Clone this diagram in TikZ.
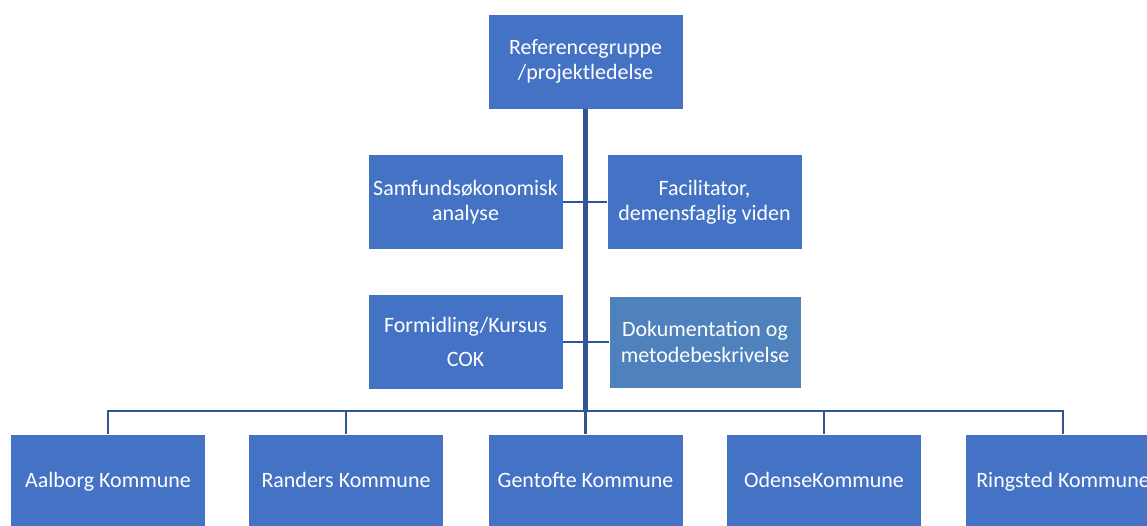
\documentclass[tikz,border=0pt]{standalone}
\usepackage{fontspec}
\setmainfont{Carlito}
\usetikzlibrary{positioning,calc}
\definecolor{boxblue}{HTML}{4472C4}
\definecolor{dokblue}{HTML}{4F81BD}
\definecolor{linkblue}{HTML}{2F5597}
\begin{document}
\begin{tikzpicture}[x=0.02cm,y=-0.02cm,
	box/.style={fill=boxblue,draw=white,line width=0.4pt,text=white,align=center,
		minimum width=3.9cm,minimum height=1.9cm,inner sep=2pt,
		font=\fontsize{12.5}{14.5}\selectfont},
	kommune/.style={box,text height=2ex,text depth=0.5ex},
	link/.style={draw=linkblue,line width=1.6pt}]
	\useasboundingbox (0,0) rectangle (1147,525);
	\node at (585.5,61.5)[box] (ref) {Referencegruppe\\/projektledelse};
	\node at (465.5,202)[box] (samf) {Samfunds\o konomisk\\analyse};
	\node at (704.5,202)[box] (fac) {Facilitator,\\demensfaglig viden};
	\node at (465.5,342)[box] (form) {Formidling/Kursus\\[5pt]COK};
	\node at (705,342)[box,fill=dokblue,minimum width=3.84cm,minimum height=1.84cm] (dok) {Dokumentation og\\metodebeskrivelse};
	\node at (108,481.5)[kommune] (aal) {Aalborg Kommune};
	\node at (346,481.5)[kommune] (ran) {Randers Kommune};
	\node at (585.5,481.5)[kommune] (gen) {Gentofte Kommune};
	\node at (824,481.5)[kommune] (ode) {OdenseKommune};
	\node at (1063,481.5)[kommune] (rin) {Ringsted Kommune};
	\coordinate (bar) at (585.5,411);
	\draw[link] (samf.east) -- (fac.west);
	\draw[link] (form.east) -- (dok.west);
	\foreach \k in {aal,ran,gen,ode,rin}
		\draw[link] (bar) -| (\k.north);
	\draw[link,line width=2.4pt] (ref.south) -- (bar);
\end{tikzpicture}
\end{document}
